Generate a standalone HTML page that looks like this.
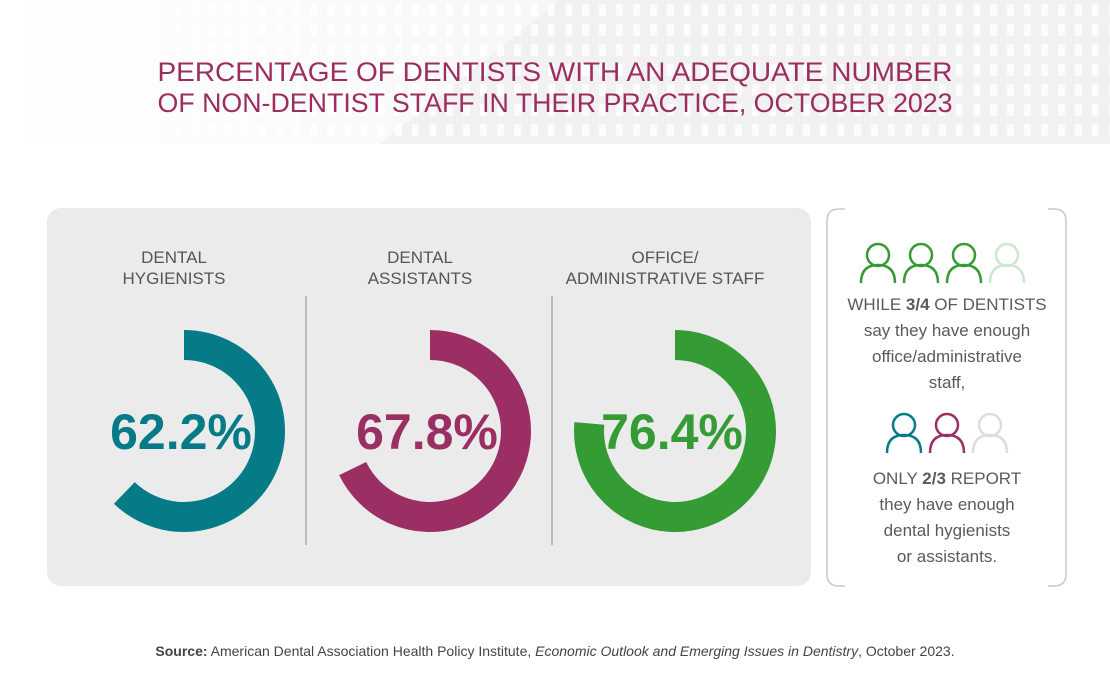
<!DOCTYPE html>
<html><head><meta charset="utf-8"><style>
body{margin:0;width:1110px;height:700px;background:#fff;font-family:"Liberation Sans",sans-serif;overflow:hidden;position:relative}
.abs{position:absolute}
</style></head><body>
<svg class="abs" style="left:0;top:0" width="1110" height="700">
  <defs>
    <linearGradient id="hg" x1="0" x2="1" y1="0" y2="0">
      <stop offset="0" stop-color="#ffffff"/><stop offset="0.5" stop-color="#f7f7f7"/><stop offset="1" stop-color="#efefef"/>
    </linearGradient>
    <pattern id="dots" width="17" height="20" patternUnits="userSpaceOnUse">
      <rect x="4" y="4" width="7" height="12" fill="#ffffff" opacity="0.8"/>
    </pattern>
  </defs>
  <g>
    <rect x="0" y="0" width="1110" height="144" fill="url(#hg)"/>
    <polygon points="380,144 560,0 1110,0 1110,144" fill="#f1f1f1"/>
    <rect x="170" y="0" width="940" height="144" fill="url(#dots)"/>
  </g>
  <text x="555" y="81" text-anchor="middle" font-size="27" fill="#9b2d5f" font-family="Liberation Sans, sans-serif" textLength="795" lengthAdjust="spacingAndGlyphs">PERCENTAGE OF DENTISTS WITH AN ADEQUATE NUMBER</text>
  <text x="555" y="112" text-anchor="middle" font-size="27" fill="#9b2d5f" font-family="Liberation Sans, sans-serif" textLength="795" lengthAdjust="spacingAndGlyphs">OF NON-DENTIST STAFF IN THEIR PRACTICE, OCTOBER 2023</text>

  <rect x="47" y="208" width="764" height="378" rx="14" fill="#ebebeb"/>
  <line x1="306" y1="296" x2="306" y2="545" stroke="#aaaaaa" stroke-width="1.5"/>
  <line x1="552" y1="296" x2="552" y2="545" stroke="#aaaaaa" stroke-width="1.5"/>
  <g id="donuts"></g>

  <g fill="none" stroke="#c8c8c8" stroke-width="1.5">
    <path d="M845,209 L839,209 Q827,209 827,221 L827,574 Q827,586 839,586 L845,586"/>
    <path d="M1048,209 L1054,209 Q1066,209 1066,221 L1066,574 Q1066,586 1054,586 L1048,586"/>
  </g>
  <g id="people"></g>
  <g font-size="17" fill="#5a5a5a" text-anchor="middle" font-family="Liberation Sans, sans-serif">
    <text x="947" y="310">WHILE <tspan font-weight="bold">3/4</tspan> OF DENTISTS</text>
    <text x="947" y="336">say they have enough</text>
    <text x="947" y="362">office/administrative</text>
    <text x="947" y="388">staff,</text>
    <text x="947" y="484">ONLY <tspan font-weight="bold">2/3</tspan> REPORT</text>
    <text x="947" y="510">they have enough</text>
    <text x="947" y="536">dental hygienists</text>
    <text x="947" y="562">or assistants.</text>
  </g>
  <text x="555" y="656" text-anchor="middle" font-size="14" fill="#444" font-family="Liberation Sans, sans-serif"><tspan font-weight="bold">Source:</tspan> American Dental Association Health Policy Institute, <tspan font-style="italic">Economic Outlook and Emerging Issues in Dentistry</tspan>, October 2023.</text>
</svg>
<script>
const categories = ["DENTAL|HYGIENISTS","DENTAL|ASSISTANTS","OFFICE/|ADMINISTRATIVE STAFF"];
const values = [62.2, 67.8, 76.4];
const valueLabels = ["62.2%","67.8%","76.4%"];
const colors = ["#067b88","#9b2f63","#349b35"];
const NS="http://www.w3.org/2000/svg";
const g=document.getElementById('donuts');
const cxs=[184,430,675], cy=431, r=86, sw=30;
function angle(v){return v/100*2*Math.PI;}
values.forEach((v,i)=>{
  const cx=cxs[i];
  const a=angle(v);
  const x0=cx, y0=cy-r;
  const x1=cx+r*Math.sin(a), y1=cy-r*Math.cos(a);
  const large=a>Math.PI?1:0;
  const p=document.createElementNS(NS,'path');
  p.setAttribute('d',`M${x0},${y0} A${r},${r} 0 ${large} 1 ${x1},${y1}`);
  p.setAttribute('fill','none');p.setAttribute('stroke',colors[i]);p.setAttribute('stroke-width',sw);
  
  
  g.appendChild(p);
  const t=document.createElementNS(NS,'text');
  t.setAttribute('x',cx-3);t.setAttribute('y',cy+18);t.setAttribute('text-anchor','middle');
  t.setAttribute('font-size','50');t.setAttribute('font-weight','bold');t.setAttribute('fill',colors[i]);
  t.setAttribute('font-family','Liberation Sans, sans-serif');
  t.textContent=valueLabels[i];
  
  
  g.appendChild(t);
  categories[i].split('|').forEach((line,j)=>{
    const l=document.createElementNS(NS,'text');
    l.setAttribute('x',cx-10);l.setAttribute('y',263+j*21);l.setAttribute('text-anchor','middle');
    l.setAttribute('font-size','17');l.setAttribute('fill','#555');l.setAttribute('font-family','Liberation Sans, sans-serif');
    l.textContent=line;
    
    
    g.appendChild(l);
  });
});
const pg=document.getElementById('people');
function person(x,y,c){
  const gg=document.createElementNS(NS,'g');
  gg.setAttribute('fill','none');gg.setAttribute('stroke',c);gg.setAttribute('stroke-width','2.5');
  gg.innerHTML=`<circle cx="${x}" cy="${y+12}" r="11"/><path d="M${x-17},${y+40} Q${x-17},${y+22} ${x},${y+22} Q${x+17},${y+22} ${x+17},${y+40}"/>`;
  
  
  pg.appendChild(gg);
}
[["#349b35",878],["#349b35",921],["#349b35",964],["#cde8cd",1007]].forEach(p=>person(p[1],243,p[0]));
[["#067b88",904],["#9b2f63",947],["#dddddd",990]].forEach(p=>person(p[1],413,p[0]));
</script>
</body></html>
